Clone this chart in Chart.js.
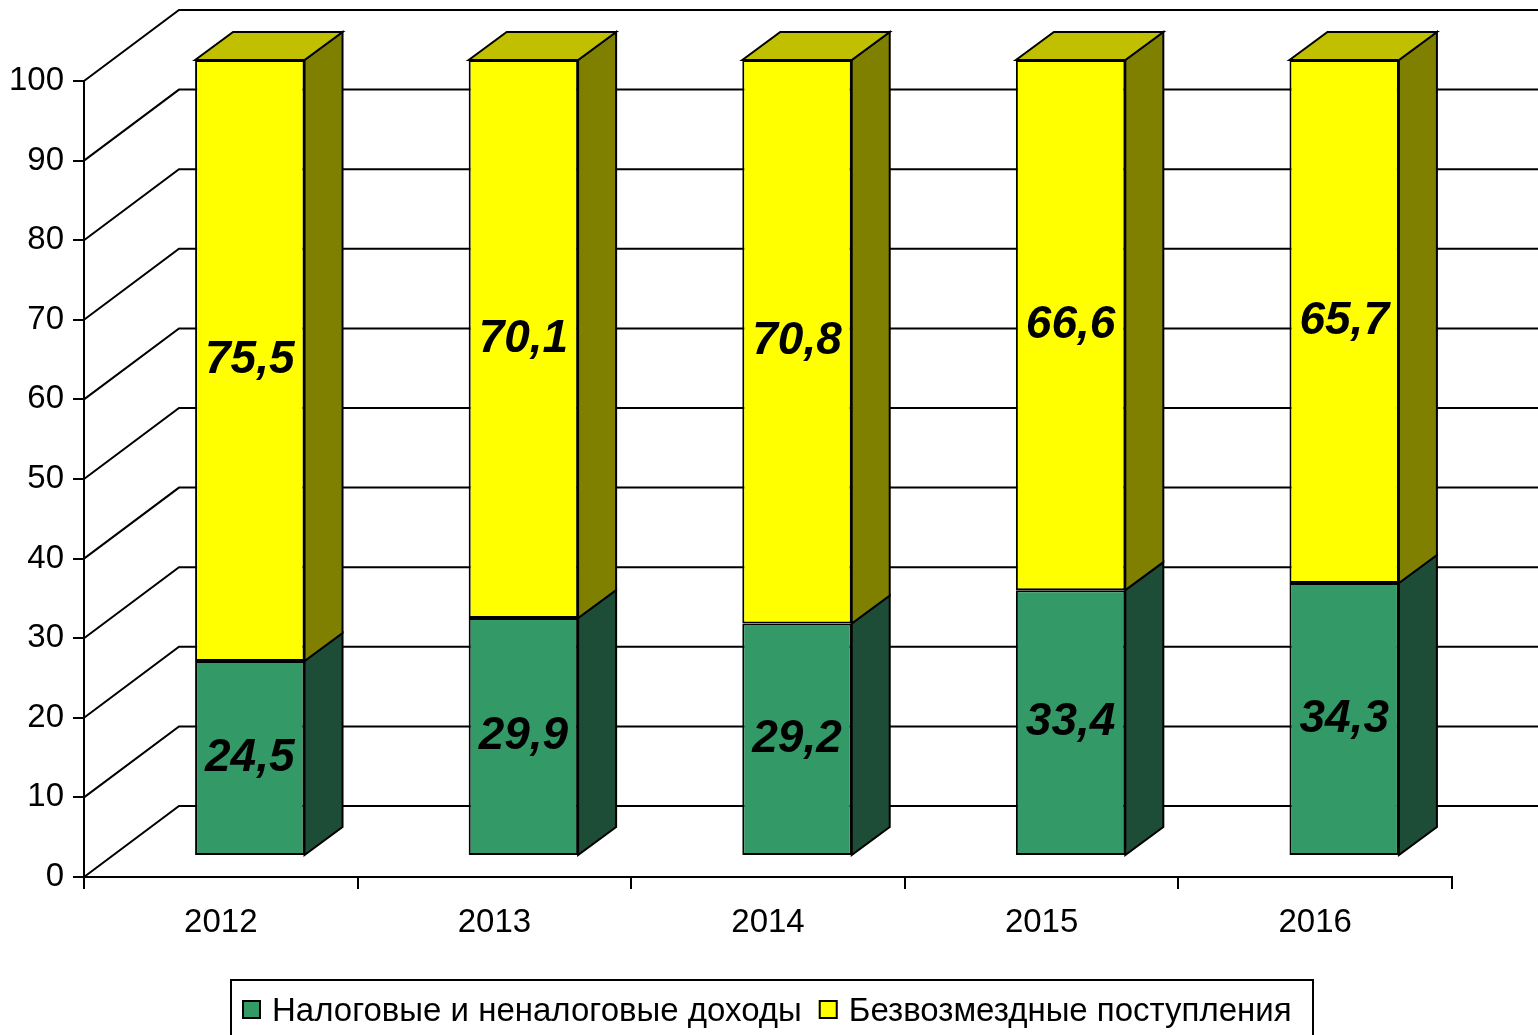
<!DOCTYPE html>
<html>
<head>
<meta charset="utf-8">
<script src="https://cdn.jsdelivr.net/npm/chart.js@4.4.0/dist/chart.umd.min.js"></script>
<style>
    html, body { margin: 0; padding: 0; background: #fff; }
    canvas { display: block; }
</style>
</head>
<body>
<canvas id="myChart" width="1538" height="1035"></canvas>
<script>
const years = ['2012', '2013', '2014', '2015', '2016'];
const taxIncome = [24.5, 29.9, 29.2, 33.4, 34.3];
const grants = [75.5, 70.1, 70.8, 66.6, 65.7];
const seriesNames = ['Налоговые и неналоговые доходы', 'Безвозмездные поступления'];
const yTicks = [0, 10, 20, 30, 40, 50, 60, 70, 80, 90, 100];

// 3d look: back wall, front face shift, bar depth
const wall = { dx: 95, dy: -71 };
const shift = { dx: 29, dy: -21 };
const depth = { dx: 38, dy: -28 };

const frontColors = ['#339966', '#FFFF00'];
const sideColors = ['#1D4D37', '#808000'];
const topColor = '#C0C000';
const font = '"Liberation Sans", Arial, sans-serif';

const threeD = {
    id: 'threeD',
    beforeDatasetsDraw(chart) {
        const ctx = chart.ctx;
        const y = chart.scales.y;
        const area = chart.chartArea;
        ctx.save();
        ctx.strokeStyle = '#000';
        ctx.lineWidth = 2;
        yTicks.forEach(function (v) {
            const py = y.getPixelForValue(v);
            ctx.beginPath();
            ctx.moveTo(area.left, py);
            ctx.lineTo(area.left + wall.dx, py + wall.dy);
            ctx.lineTo(chart.width + 5, py + wall.dy);
            ctx.stroke();
        });
        ctx.restore();
        // front faces are drawn by chart.js, just moved into the depth
        ctx.save();
        ctx.translate(shift.dx, shift.dy);
    },
    afterDatasetsDraw(chart) {
        const ctx = chart.ctx;
        ctx.restore();
        ctx.save();
        ctx.strokeStyle = '#000';
        ctx.lineWidth = 2;
        ctx.lineJoin = 'miter';
        const last = chart.data.datasets.length - 1;
        chart.data.datasets.forEach(function (ds, i) {
            const meta = chart.getDatasetMeta(i);
            meta.data.forEach(function (el) {
                const p = el.getProps(['x', 'y', 'base', 'width'], true);
                const L = p.x - p.width / 2 + shift.dx;
                const R = p.x + p.width / 2 + shift.dx;
                const top = p.y + shift.dy;
                const bot = p.base + shift.dy;
                ctx.fillStyle = sideColors[i];
                ctx.beginPath();
                ctx.moveTo(R, top);
                ctx.lineTo(R + depth.dx, top + depth.dy);
                ctx.lineTo(R + depth.dx, bot + depth.dy);
                ctx.lineTo(R, bot);
                ctx.closePath();
                ctx.fill();
                ctx.stroke();
                if (i === last) {
                    ctx.fillStyle = topColor;
                    ctx.beginPath();
                    ctx.moveTo(L, top);
                    ctx.lineTo(L + depth.dx, top + depth.dy);
                    ctx.lineTo(R + depth.dx, top + depth.dy);
                    ctx.lineTo(R, top);
                    ctx.closePath();
                    ctx.fill();
                    ctx.stroke();
                }
            });
        });
        // value labels
        ctx.fillStyle = '#000';
        ctx.font = 'italic bold 46px ' + font;
        ctx.textAlign = 'center';
        ctx.textBaseline = 'middle';
        chart.data.datasets.forEach(function (ds, i) {
            const meta = chart.getDatasetMeta(i);
            meta.data.forEach(function (el, j) {
                const p = el.getProps(['x', 'y', 'base'], true);
                const txt = ds.data[j].toFixed(1).replace('.', ',');
                ctx.fillText(txt, p.x + shift.dx, (p.y + p.base) / 2 + shift.dy);
            });
        });
        ctx.restore();
    },
    afterDraw(chart) {
        // legend in a frame under the axis
        const ctx = chart.ctx;
        ctx.save();
        ctx.strokeStyle = '#000';
        ctx.lineWidth = 2;
        ctx.strokeRect(231, 980, 1082, 70);
        ctx.font = '33px ' + font;
        ctx.textBaseline = 'alphabetic';
        let x = 242;
        chart.data.datasets.forEach(function (ds, i) {
            ctx.fillStyle = frontColors[i];
            ctx.fillRect(x, 1000, 19, 19);
            ctx.strokeRect(x + 1, 1001, 17, 17);
            ctx.fillStyle = '#000';
            ctx.fillText(ds.label, x + 30, 1021);
            x += 30 + ctx.measureText(ds.label).width + 17;
        });
        ctx.restore();
    }
};

const ctx = document.getElementById('myChart');

const myChart = new Chart(ctx, {
    type: 'bar',
    data: {
        labels: years,
        datasets: [{
            label: seriesNames[0],
            data: taxIncome,
            backgroundColor: frontColors[0],
            borderColor: '#000',
            borderWidth: 2,
            borderSkipped: false,
            clip: false
        }, {
            label: seriesNames[1],
            data: grants,
            backgroundColor: frontColors[1],
            borderColor: '#000',
            borderWidth: 2,
            borderSkipped: false,
            clip: false
        }]
    },
    options: {
        responsive: false,
        animation: false,
        barPercentage: 0.8,
        categoryPercentage: 0.5,
        layout: {
            padding: { top: 81, right: 86, bottom: 98, left: 0 }
        },
        scales: {
            x: {
                stacked: true,
                afterFit: function (scale) { scale.height = 60; },
                grid: {
                    drawOnChartArea: false,
                    color: '#000',
                    lineWidth: 2,
                    tickLength: 12
                },
                border: { color: '#000', width: 2 },
                ticks: {
                    color: '#000',
                    padding: 14,
                    font: { family: font, size: 33 }
                }
            },
            y: {
                stacked: true,
                min: 0,
                max: 100,
                afterFit: function (scale) { scale.width = 84; },
                afterBuildTicks: function (scale) {
                    scale.ticks = yTicks.map(function (v) { return { value: v }; });
                },
                grid: {
                    drawOnChartArea: false,
                    color: '#000',
                    lineWidth: 2,
                    tickLength: 11
                },
                border: { color: '#000', width: 2 },
                ticks: {
                    color: '#000',
                    padding: 9,
                    font: { family: font, size: 33 }
                }
            }
        },
        plugins: {
            legend: { display: false },
            tooltip: { enabled: false }
        }
    },
    plugins: [threeD]
});
</script>
</body>
</html>
